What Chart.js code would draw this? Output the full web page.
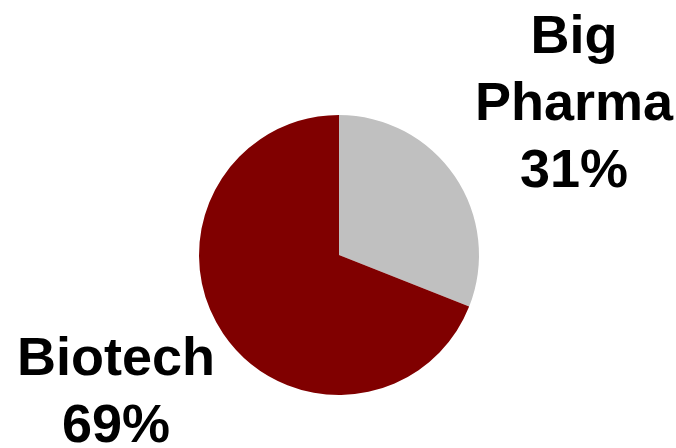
<!DOCTYPE html>
<html>
<head>
<meta charset="utf-8">
<script src="https://cdn.jsdelivr.net/npm/chart.js@4"></script>
<style>
  html, body { margin: 0; padding: 0; background: #fff; }
  #wrap { width: 676px; height: 448px; }
</style>
</head>
<body>
<div id="wrap"><canvas id="pieChart" width="676" height="448"></canvas></div>
<script>
const categories = ['Big Pharma', 'Biotech'];
const shares = [31, 69];
const sliceColors = ['#c0c0c0', '#800000'];

// label text boxes (centre x, first baseline), one per category
const labelSpots = [
  { x: 574, y: 53, lines: ['Big', 'Pharma', '31%'] },
  { x: 116, y: 375, lines: ['Biotech', '69%'] }
];

const sliceLabels = {
  id: 'sliceLabels',
  afterDraw(chart) {
    const ctx = chart.ctx;
    ctx.save();
    ctx.font = 'bold 54px "Liberation Sans", Arial, sans-serif';
    ctx.fillStyle = '#000';
    ctx.textAlign = 'center';
    ctx.textBaseline = 'alphabetic';
    labelSpots.forEach(spot => {
      spot.lines.forEach((line, i) => {
        ctx.fillText(line, spot.x, spot.y + i * 67);
      });
    });
    ctx.restore();
  }
};

const ctx = document.getElementById('pieChart').getContext('2d');
new Chart(ctx, {
  type: 'pie',
  data: {
    labels: categories,
    datasets: [{
      data: shares,
      backgroundColor: sliceColors,
      borderWidth: 0
    }]
  },
  options: {
    responsive: false,
    animation: false,
    layout: { padding: { top: 115, bottom: 53, left: 2, right: 0 } },
    plugins: {
      legend: { display: false },
      tooltip: { enabled: false }
    }
  },
  plugins: [sliceLabels]
});
</script>
</body>
</html>
